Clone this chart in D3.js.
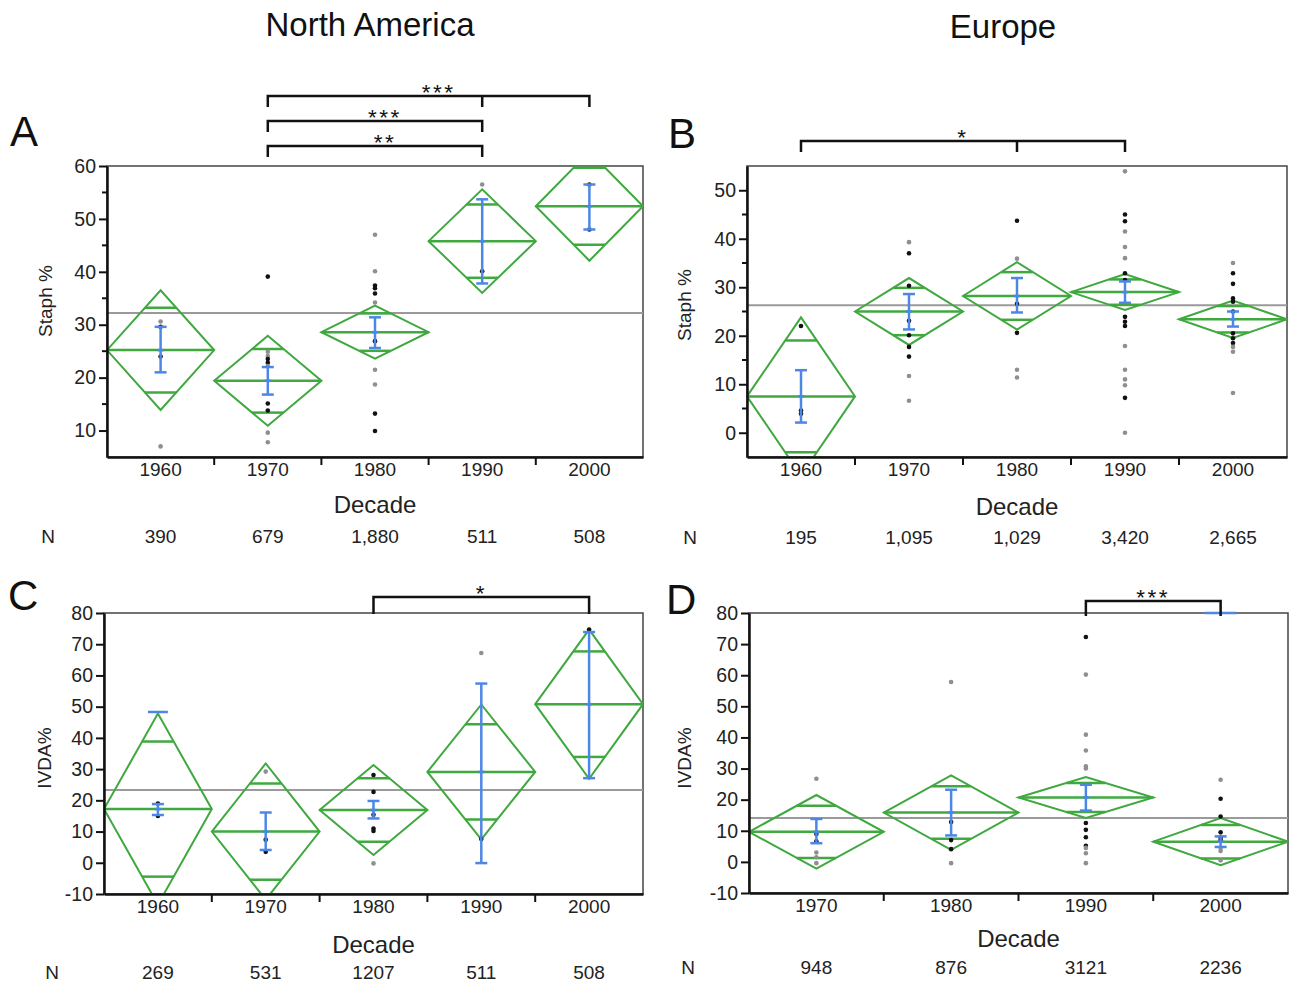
<!DOCTYPE html>
<html><head><meta charset="utf-8">
<script src="https://cdn.jsdelivr.net/npm/d3@7"></script>
<style>
body{margin:0;background:#fff;}
svg{display:block;font-family:"Liberation Sans",Arial,sans-serif;}
</style></head>
<body>
<svg id="chart" width="1290" height="983"></svg>
<script>
// ---------------- DATA ----------------
const regionTitles = ["North America", "Europe"];

// Panel A: North America, Staph %
const decadesA = ["1960","1970","1980","1990","2000"];
const nA = ["390","679","1,880","511","508"];
const meanA = [25.2, 19.4, 28.6, 45.8, 52.4];
const ciA = [11.3, 8.5, 5.0, 9.8, 10.3];
const sdLoA = [21.0, 16.8, 25.6, 37.8, 48.0];
const sdHiA = [29.6, 22.0, 31.4, 53.7, 56.5];
const grandA = 32.2;
const ptsA = [
  ["1960",30.6,0],["1960",29.6,1],["1960",24.0,1],["1960",7.0,0],
  ["1970",39.1,1],["1970",24.9,0],["1970",24.1,0],["1970",23.5,1],["1970",22.8,1],["1970",22.2,0],["1970",15.1,1],["1970",13.8,1],["1970",9.6,0],["1970",7.8,0],
  ["1980",47.0,0],["1980",40.1,0],["1980",37.4,1],["1980",36.9,1],["1980",35.9,1],["1980",34.2,0],["1980",26.9,1],["1980",21.5,0],["1980",18.7,0],["1980",13.2,1],["1980",9.9,1],
  ["1990",56.5,0],["1990",40.1,1],
  ["2000",56.5,1],["2000",48.0,1]
];
const ticksA = [10,20,30,40,50,60];
const minorA = [15,25,35,45,55];
const bracketsA = [
  {from:"1970", to:"2000", mid:"1990", label:"***"},
  {from:"1970", to:"1990", mid:null, label:"***"},
  {from:"1970", to:"1990", mid:null, label:"**"}
];

// Panel B: Europe, Staph %
const decadesB = ["1960","1970","1980","1990","2000"];
const nB = ["195","1,095","1,029","3,420","2,665"];
const meanB = [7.5, 25.0, 28.2, 29.0, 23.4];
const ciB = [16.3, 6.9, 6.95, 3.7, 3.85];
const sdLoB = [2.1, 21.3, 24.8, 26.8, 21.9];
const sdHiB = [12.9, 28.6, 31.9, 31.2, 25.0];
const grandB = 26.3;
const ptsB = [
  ["1960",22.0,1],["1960",4.6,1],["1960",3.9,1],
  ["1970",39.3,0],["1970",37.0,1],["1970",30.3,1],["1970",23.1,1],["1970",20.1,1],["1970",17.7,1],["1970",15.7,1],["1970",11.7,0],["1970",6.6,0],
  ["1980",43.7,1],["1980",35.9,0],["1980",26.6,1],["1980",20.6,1],["1980",13.0,0],["1980",11.4,0],
  ["1990",53.9,0],["1990",45.0,1],["1990",43.6,1],["1990",41.5,0],["1990",38.3,0],["1990",36.0,0],["1990",32.9,1],["1990",31.5,1],["1990",23.9,1],["1990",22.9,1],["1990",22.0,1],["1990",17.9,0],["1990",13.0,0],["1990",11.0,0],["1990",9.8,0],["1990",7.2,1],["1990",0.0,0],
  ["2000",35.0,0],["2000",32.9,1],["2000",30.7,1],["2000",27.7,1],["2000",27.0,1],["2000",25.0,1],["2000",20.5,1],["2000",19.5,1],["2000",18.5,1],["2000",17.7,0],["2000",16.7,0],["2000",8.2,0]
];
const ticksB = [0,10,20,30,40,50];
const minorB = [5,15,25,35,45];
const bracketsB = [
  {from:"1960", to:"1990", mid:"1980", label:"*"}
];

// Panel C: North America, IVDA %
const decadesC = ["1960","1970","1980","1990","2000"];
const nC = ["269","531","1207","511","508"];
const meanC = [17.2, 10.0, 16.9, 29.1, 50.8];
const ciC = [30.6, 21.8, 14.4, 21.6, 23.9];
const sdLoC = [15.3, 4.1, 14.2, -0.1, 27.1];
const sdHiC = [18.8, 16.1, 19.8, 57.4, 73.9];
const extraCapC = [48.3, null, null, null, null];
const grandC = 23.3;
const ptsC = [
  ["1960",19.0,1],["1960",15.0,1],
  ["1970",29.2,0],["1970",7.4,1],["1970",3.5,1],
  ["1980",28.1,1],["1980",22.7,1],["1980",15.4,1],["1980",11.0,1],["1980",10.2,1],["1980",-0.2,0],
  ["1990",67.2,0],["1990",7.6,1],
  ["2000",74.7,1]
];
const ticksC = [-10,0,10,20,30,40,50,60,70,80];
const bracketsC = [
  {from:"1980", to:"2000", mid:null, label:"*"}
];

// Panel D: Europe, IVDA %
const decadesD = ["1970","1980","1990","2000"];
const nD = ["948","876","3121","2236"];
const meanD = [9.65, 15.85, 20.7, 6.5];
const ciD = [11.85, 11.95, 6.6, 7.6];
const sdLoD = [6.0, 8.5, 16.5, 4.8];
const sdHiD = [13.8, 23.2, 24.8, 8.2];
const extraCapD = [null, null, null, 80];
const grandD = 14.1;
const ptsD = [
  ["1970",26.7,0],["1970",9.0,1],["1970",6.6,1],["1970",3.0,0],["1970",1.5,0],["1970",-0.4,0],
  ["1980",57.8,0],["1980",12.8,1],["1980",7.0,1],["1980",4.1,1],["1980",-0.4,0],
  ["1990",72.3,1],["1990",60.2,0],["1990",40.9,0],["1990",35.8,0],["1990",30.7,0],["1990",30.0,0],["1990",12.5,1],["1990",10.3,1],["1990",7.9,1],["1990",5.2,1],["1990",4.5,0],["1990",2.8,0],["1990",-0.4,0],
  ["2000",26.4,0],["2000",20.3,1],["2000",14.6,1],["2000",9.5,1],["2000",7.8,1],["2000",7.0,1],["2000",4.5,0],["2000",3.5,0],["2000",0.5,0]
];
const ticksD = [-10,0,10,20,30,40,50,60,70,80];
const bracketsD = [
  {from:"1990", to:"2000", mid:null, label:"***"}
];

// ---------------- LAYOUT ----------------
const GREEN = "#3fa83f", BLUE = "#4d87e6", GRAY_LINE = "#9a9a9a";
const svg = d3.select("#chart");

svg.append("text").attr("x", 370).attr("y", 36).attr("text-anchor","middle")
  .attr("font-size", 33).attr("fill","#111").text(regionTitles[0]);
svg.append("text").attr("x", 1003).attr("y", 38).attr("text-anchor","middle")
  .attr("font-size", 33).attr("fill","#111").text(regionTitles[1]);

function panel(o){
  const g = svg.append("g");
  const x = d3.scaleBand().domain(o.cats).range([o.left, o.right]).padding(0);
  const y = d3.scaleLinear().domain(o.domain).range([o.bottom, o.top]);
  const bw = x.bandwidth();
  const cx = c => x(c) + bw/2;
  const clipId = "clip" + o.letter;
  svg.append("clipPath").attr("id", clipId).append("rect")
    .attr("x", o.left).attr("y", o.top).attr("width", o.right-o.left).attr("height", o.bottom-o.top);

  g.append("text").attr("x", o.letterX).attr("y", o.letterY).attr("font-size", 42)
    .attr("fill","#111").text(o.letter);

  g.append("rect").attr("x", o.left).attr("y", o.top).attr("width", o.right-o.left)
    .attr("height", o.bottom-o.top).attr("fill","none").attr("stroke","#444").attr("stroke-width",1.5);

  const plot = g.append("g").attr("clip-path", `url(#${clipId})`);

  plot.append("line").attr("x1", o.left).attr("x2", o.right)
    .attr("y1", y(o.grand)).attr("y2", y(o.grand)).attr("stroke", GRAY_LINE).attr("stroke-width", 2);

  const idx = d3.range(o.cats.length);
  plot.selectAll("path.dia").data(idx).join("path").attr("class","dia")
    .attr("d", i => {
      const c = o.cats[i], x0 = x(c), x1 = x(c)+bw, xm = cx(c);
      return `M${x0},${y(o.mean[i])}L${xm},${y(o.mean[i]+o.ci[i])}L${x1},${y(o.mean[i])}L${xm},${y(o.mean[i]-o.ci[i])}Z`;
    })
    .attr("fill","none").attr("stroke", GREEN).attr("stroke-width", 2);
  plot.selectAll("line.mean").data(idx).join("line").attr("class","mean")
    .attr("x1", i => x(o.cats[i])).attr("x2", i => x(o.cats[i]) + bw)
    .attr("y1", i => y(o.mean[i])).attr("y2", i => y(o.mean[i]))
    .attr("stroke", GREEN).attr("stroke-width", 2.5);
  const ov = 1/Math.SQRT2, hw = bw/2*(1-ov);
  [1,-1].forEach(s => {
    plot.selectAll("line.ov"+(s>0?"p":"n")).data(idx).join("line").attr("class","ov"+(s>0?"p":"n"))
      .attr("x1", i => cx(o.cats[i]) - hw).attr("x2", i => cx(o.cats[i]) + hw)
      .attr("y1", i => y(o.mean[i] + s*o.ci[i]*ov)).attr("y2", i => y(o.mean[i] + s*o.ci[i]*ov))
      .attr("stroke", GREEN).attr("stroke-width", 2.5);
  });

  plot.selectAll("circle.pt").data(o.pts).join("circle").attr("class","pt")
    .attr("cx", d => cx(d[0])).attr("cy", d => y(d[1])).attr("r", 2.3)
    .attr("fill", d => d[2] ? "#111" : "#8f8f8f");

  const cap = 6;
  plot.selectAll("line.eb").data(idx).join("line").attr("class","eb")
    .attr("x1", i => cx(o.cats[i])).attr("x2", i => cx(o.cats[i]))
    .attr("y1", i => y(o.lo[i])).attr("y2", i => y(o.hi[i]))
    .attr("stroke", BLUE).attr("stroke-width", 2.5);
  ["lo","hi"].forEach(k => {
    plot.selectAll("line.cap"+k).data(idx).join("line").attr("class","cap"+k)
      .attr("x1", i => cx(o.cats[i]) - cap).attr("x2", i => cx(o.cats[i]) + cap)
      .attr("y1", i => y(o[k][i])).attr("y2", i => y(o[k][i]))
      .attr("stroke", BLUE).attr("stroke-width", 2.5);
  });
  plot.selectAll("line.mtick").data(idx).join("line").attr("class","mtick")
    .attr("x1", i => cx(o.cats[i]) - 3).attr("x2", i => cx(o.cats[i]) + 3)
    .attr("y1", i => y(o.mean[i])).attr("y2", i => y(o.mean[i]))
    .attr("stroke", BLUE).attr("stroke-width", 2.5);
  if (o.extraCap) {
    const ex = idx.filter(i => o.extraCap[i] != null);
    g.selectAll("line.excap").data(ex).join("line").attr("class","excap")
      .attr("x1", i => cx(o.cats[i]) - o.extraW).attr("x2", i => cx(o.cats[i]) + o.extraW)
      .attr("y1", i => y(o.extraCap[i])).attr("y2", i => y(o.extraCap[i]))
      .attr("stroke", BLUE).attr("stroke-width", 2.5);
  }

  const ya = g.append("g").attr("transform", `translate(${o.left},0)`)
    .call(d3.axisLeft(y).tickValues(o.ticks).tickFormat(d => String(d)).tickSize(8).tickPadding(3).tickSizeOuter(0));
  ya.select(".domain").attr("stroke","#111").attr("stroke-width",2.5);
  ya.selectAll(".tick line").attr("stroke","#111").attr("stroke-width",2);
  ya.selectAll(".tick text").attr("font-size",19.5).attr("fill","#222")
    .attr("font-family","'Liberation Sans',Arial,sans-serif");
  if (o.minor) {
    g.selectAll("line.minor").data(o.minor).join("line").attr("class","minor")
      .attr("x1", o.left - 5).attr("x2", o.left)
      .attr("y1", d => y(d)).attr("y2", d => y(d)).attr("stroke","#111").attr("stroke-width",2);
  }
  const xa = g.append("g").attr("transform", `translate(0,${o.bottom})`)
    .call(d3.axisBottom(x).tickSize(0).tickPadding(6).tickSizeOuter(0));
  xa.select(".domain").attr("stroke","#111").attr("stroke-width",2.5);
  xa.selectAll(".tick text").attr("font-size",19).attr("fill","#222")
    .attr("font-family","'Liberation Sans',Arial,sans-serif");
  g.selectAll("line.xb").data(o.cats.slice(1)).join("line").attr("class","xb")
    .attr("x1", c => x(c)).attr("x2", c => x(c))
    .attr("y1", o.bottom).attr("y2", o.bottom + 8).attr("stroke","#111").attr("stroke-width",2);

  g.append("text").attr("transform", `translate(${o.yTitleX},${o.yTitleY}) rotate(-90)`)
    .attr("text-anchor","middle").attr("font-size",19).attr("fill","#222").text(o.yTitle);
  g.append("text").attr("x", (o.left+o.right)/2).attr("y", o.xTitleY).attr("text-anchor","middle")
    .attr("font-size",24).attr("fill","#222").text("Decade");

  g.append("text").attr("x", o.nX).attr("y", o.nY).attr("text-anchor","middle")
    .attr("font-size",19).attr("fill","#222").text("N");
  g.selectAll("text.nval").data(idx).join("text").attr("class","nval")
    .attr("x", i => cx(o.cats[i])).attr("y", o.nY).attr("text-anchor","middle")
    .attr("font-size",19).attr("fill","#222").text(i => o.n[i]);

  o.brackets.forEach((b, k) => {
    const by = o.bracketY[k], x1 = cx(b.from), x2 = cx(b.to);
    let d = `M${x1},${by + o.tickLen}L${x1},${by}L${x2},${by}L${x2},${by + o.tickLen}`;
    if (b.mid) d += `M${cx(b.mid)},${by}L${cx(b.mid)},${by + o.tickLen}`;
    g.append("path").attr("d", d).attr("fill","none").attr("stroke","#111").attr("stroke-width",2.5);
    g.append("text").attr("x", (x1+x2)/2 + (o.starShift||0)).attr("y", by + 3.5).attr("text-anchor","middle")
      .attr("font-size",22.5).attr("letter-spacing",2.5).attr("fill","#111").text(b.label);
  });
}

panel({letter:"A", letterX:10, letterY:146, cats:decadesA, n:nA, mean:meanA, ci:ciA, lo:sdLoA, hi:sdHiA,
  grand:grandA, pts:ptsA, ticks:ticksA, minor:minorA, domain:[5,60], left:107, right:643, top:166, bottom:457,
  yTitle:"Staph %", yTitleX:52, yTitleY:301, xTitleY:513, nX:48, nY:543,
  brackets:bracketsA, bracketY:[96,121,146], tickLen:11, starShift:10});
panel({letter:"B", letterX:668, letterY:148, cats:decadesB, n:nB, mean:meanB, ci:ciB, lo:sdLoB, hi:sdHiB,
  grand:grandB, pts:ptsB, ticks:ticksB, minor:minorB, domain:[-5,55], left:747, right:1287, top:166, bottom:457,
  yTitle:"Staph %", yTitleX:691, yTitleY:305, xTitleY:515, nX:690, nY:544,
  brackets:bracketsB, bracketY:[141], tickLen:11});
panel({letter:"C", letterX:8, letterY:610, cats:decadesC, n:nC, mean:meanC, ci:ciC, lo:sdLoC, hi:sdHiC,
  extraCap:extraCapC, extraW:10,
  grand:grandC, pts:ptsC, ticks:ticksC, minor:null, domain:[-10,80], left:104, right:643, top:613, bottom:894,
  yTitle:"IVDA%", yTitleX:51, yTitleY:758, xTitleY:953, nX:52, nY:979,
  brackets:bracketsC, bracketY:[597], tickLen:17});
panel({letter:"D", letterX:666, letterY:614, cats:decadesD, n:nD, mean:meanD, ci:ciD, lo:sdLoD, hi:sdHiD,
  extraCap:extraCapD, extraW:16,
  grand:grandD, pts:ptsD, ticks:ticksD, minor:null, domain:[-10,80], left:749, right:1288, top:613, bottom:893,
  yTitle:"IVDA%", yTitleX:691, yTitleY:758, xTitleY:947, nX:688, nY:974,
  brackets:bracketsD, bracketY:[601], tickLen:15});
</script>
</body></html>
